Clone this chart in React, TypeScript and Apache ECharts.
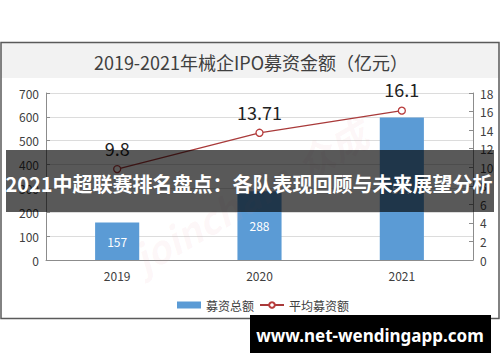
import React, { useEffect, useRef } from "react";
import * as echarts from "echarts";

const categories = ["2019", "2020", "2021"];
const totalAmounts = [157, 288, 597];
const avgAmounts = [9.8, 13.71, 16.1];
const leftTicks = { min: 0, max: 700, interval: 100 };
const rightTicks = { min: 0, max: 18, interval: 2 };
const titleText = "2019-2021年械企IPO募资金额（亿元）";
const seriesNames = ["募资总额", "平均募资额"];
const bannerText = "2021中超联赛排名盘点：各队表现回顾与未来展望分析";
const siteText = "www.net-wendingapp.com";
const watermarkText = "joinchain.众成";

const FONT = "Noto Sans CJK SC";

export default function App() {
  const ref = useRef<HTMLDivElement>(null);
  useEffect(() => {
    document.body.style.margin = "0";
    const chart = echarts.init(ref.current!, null, { renderer: "svg" });
    chart.setOption({
      animation: false,
      backgroundColor: "#ffffff",
      textStyle: { fontFamily: FONT },
      grid: { left: 46, right: 27, top: 93, bottom: 102, containLabel: false },
      legend: {
        top: 294,
        left: 172,
        itemGap: 5,
        itemWidth: 24,
        itemHeight: 7,
        textStyle: { fontSize: 12, color: "#404040", fontFamily: FONT },
        data: [
          { name: seriesNames[0], icon: "rect" },
          { name: seriesNames[1] },
        ],
      },
      xAxis: {
        type: "category",
        data: categories,
        axisLine: { lineStyle: { color: "#8c8c8c", width: 1 } },
        axisTick: { show: false },
        axisLabel: { fontSize: 12, color: "#404040", margin: 9 },
      },
      yAxis: [
        {
          type: "value",
          ...leftTicks,
          axisLine: { show: true, lineStyle: { color: "#8c8c8c" } },
          axisTick: { show: true, inside: true, length: 4, lineStyle: { color: "#8c8c8c" } },
          axisLabel: { fontSize: 12, color: "#404040", margin: 7 },
          splitLine: { lineStyle: { color: "#dcdcdc" } },
        },
        {
          type: "value",
          ...rightTicks,
          axisLine: { show: true, lineStyle: { color: "#8c8c8c" } },
          axisTick: { show: true, inside: true, length: 4, lineStyle: { color: "#8c8c8c" } },
          axisLabel: { fontSize: 12, color: "#404040", margin: 7 },
          splitLine: { show: false },
        },
      ],
      series: [
        {
          name: seriesNames[0],
          type: "bar",
          data: totalAmounts,
          barWidth: "31%",
          itemStyle: { color: "#5b9bd5" },
          label: { show: true, position: "inside", color: "#ffffff", fontSize: 12 },
          z: 2,
        },
        {
          name: seriesNames[1],
          type: "line",
          yAxisIndex: 1,
          data: avgAmounts,
          symbol: "circle",
          symbolSize: 7,
          lineStyle: { color: "#a93a3a", width: 1.3 },
          itemStyle: { color: "#ffffff", borderColor: "#b83c3c", borderWidth: 1.3 },
          label: { show: true, position: "top", distance: 8, fontSize: 18, color: "#222222" },
          z: 3,
        },
      ],
      graphic: [
        {
          type: "rect",
          z: -10,
          shape: { x: 1, y: 43, width: 498, height: 35 },
          style: { fill: "#f2f2f2" },
        },
        {
          type: "rect",
          z: -9,
          shape: { x: 1, y: 42.5, width: 498, height: 276 },
          style: { fill: "none", stroke: "#5a5a5a", lineWidth: 1.5 },
        },
        {
          type: "text",
          z: 1,
          x: 251,
          y: 62,
          style: {
            text: titleText,
            fill: "#404040",
            fontSize: 18,
            fontFamily: FONT,
            align: "center",
            verticalAlign: "middle",
          },
        },
        {
          type: "text",
          z: 50,
          x: 250,
          y: 195,
          rotation: (30 * Math.PI) / 180,
          style: {
            text: watermarkText,
            fill: "rgba(225,140,150,0.07)",
            fontSize: 38,
            fontStyle: "italic",
            fontWeight: "bold",
            fontFamily: FONT,
            align: "center",
            verticalAlign: "middle",
          },
        },
        {
          type: "rect",
          z: 100,
          shape: { x: 6, y: 150, width: 488, height: 62 },
          style: { fill: "rgba(0,0,0,0.65)" },
        },
        {
          type: "text",
          z: 101,
          x: 249,
          y: 183,
          style: {
            text: bannerText,
            fill: "#ffffff",
            fontSize: 20,
            fontWeight: "bold",
            fontFamily: FONT,
            align: "center",
            verticalAlign: "middle",
          },
        },
        {
          type: "rect",
          z: 100,
          shape: { x: 250, y: 315, width: 241, height: 38 },
          style: { fill: "#000000" },
        },
        {
          type: "text",
          z: 101,
          x: 370,
          y: 335,
          style: {
            text: siteText,
            fill: "#ffffff",
            fontSize: 17,
            fontWeight: "bold",
            fontFamily: "Noto Sans",
            align: "center",
            verticalAlign: "middle",
          },
        },
      ],
    });
    return () => chart.dispose();
  }, []);
  return <div ref={ref} style={{ width: 500, height: 362 }} />;
}
